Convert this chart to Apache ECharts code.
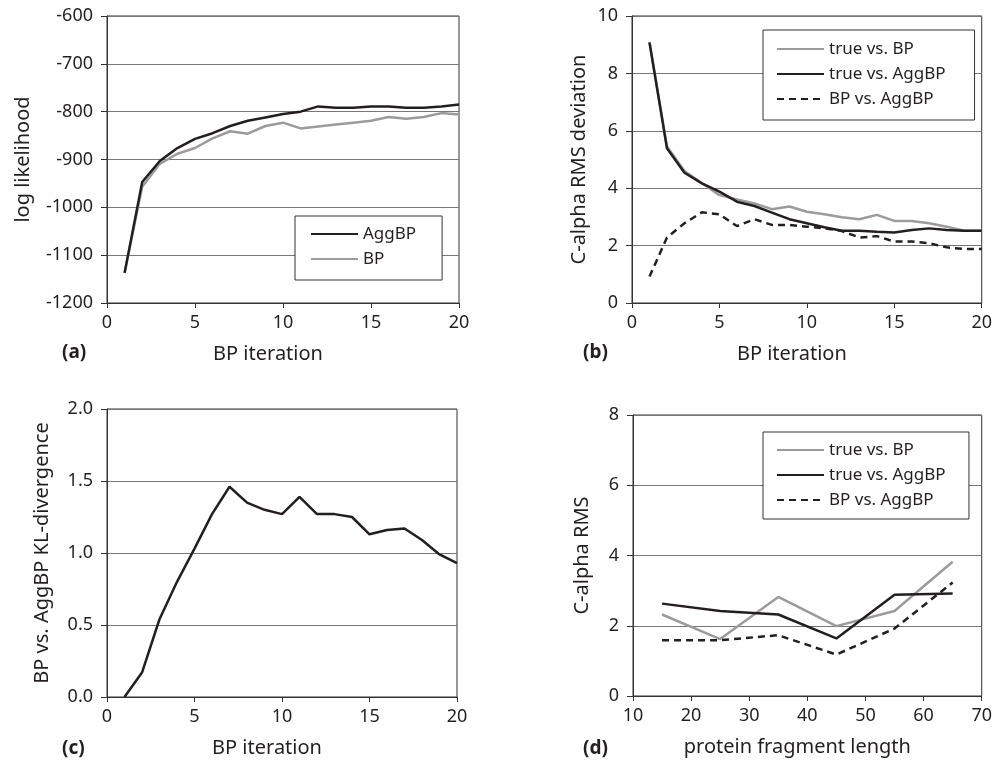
<!DOCTYPE html>
<html><head><meta charset="utf-8">
<script src="https://cdn.jsdelivr.net/npm/echarts@6/dist/echarts.min.js"></script>
<style>html,body{margin:0;padding:0;background:#fff}#c{width:995px;height:768px}</style>
</head><body><div id="c"></div>
<script>
// ---- data ----
const iterations = [1,2,3,4,5,6,7,8,9,10,11,12,13,14,15,16,17,18,19,20];
const llAggBP = [-1137,-947,-903,-876,-857,-845,-830,-819,-812,-805,-800,-789,-792,-792,-789,-789,-792,-792,-789,-785];
const llBP    = [-1137,-957,-909,-888,-876,-856,-841,-846,-830,-823,-835,-831,-827,-823,-819,-811,-815,-811,-803,-806];
const rmsTrueBP    = [9.08,5.45,4.60,4.17,3.76,3.61,3.47,3.27,3.36,3.18,3.09,2.99,2.92,3.07,2.86,2.86,2.78,2.66,2.52,2.52];
const rmsTrueAgg   = [9.08,5.39,4.54,4.17,3.88,3.53,3.38,3.15,2.92,2.78,2.64,2.52,2.52,2.48,2.46,2.54,2.60,2.54,2.52,2.52];
const rmsBPAgg     = [0.92,2.28,2.78,3.16,3.09,2.68,2.92,2.72,2.72,2.66,2.60,2.51,2.28,2.33,2.14,2.14,2.08,1.94,1.88,1.88];
const klDiv = [0.00,0.17,0.54,0.80,1.03,1.27,1.46,1.35,1.30,1.27,1.39,1.27,1.27,1.25,1.13,1.16,1.17,1.09,0.99,0.93];
const fragLength = [15,25,35,45,55,65];
const fragTrueBP  = [2.32,1.62,2.82,1.99,2.42,3.82];
const fragTrueAgg = [2.63,2.42,2.32,1.64,2.88,2.92];
const fragBPAgg   = [1.59,1.59,1.73,1.18,1.92,3.23];

const BLACK = '#231f20', GREY = '#9b9b9b';
const FONT = 'Noto Sans';
const pairs = (xs, ys) => xs.map((x, i) => [x, ys[i]]);

const grids = [
  {left:107, top:16, width:352, height:287},
  {left:632, top:16, width:351, height:287},
  {left:107, top:409, width:350, height:288},
  {left:633, top:415, width:352, height:281}
];
grids.forEach(g => { g.show = true; g.borderColor = '#333'; g.borderWidth = 1; g.backgroundColor = 'transparent'; });

function xAx(i, min, max, interval, name, padRight) {
  return {
    type:'value', gridIndex:i, min, max, interval,
    name, nameLocation:'middle', nameGap:41,
    nameTextStyle:{fontFamily:FONT, fontSize:20, color:BLACK, padding:[0,padRight,0,0]},
    axisLine:{show:true, onZero:false, lineStyle:{color:'#333', width:1}},
    axisTick:{show:true, length:5, lineStyle:{color:'#333'}},
    axisLabel:{fontFamily:FONT, fontSize:18, color:BLACK, margin:11, formatter: v => String(v)},
    splitLine:{show:false}
  };
}
function yAx(i, min, max, interval, name, nameGap, fmt) {
  return {
    type:'value', gridIndex:i, min, max, interval,
    name, nameLocation:'middle', nameGap,
    nameTextStyle:{fontFamily:FONT, fontSize:20, color:BLACK},
    axisLine:{show:true, lineStyle:{color:'#333', width:1}},
    axisTick:{show:true, length:6, lineStyle:{color:'#333'}},
    axisLabel:{fontFamily:FONT, fontSize:18, color:BLACK, margin:14, formatter: fmt || (v => String(v))},
    splitLine:{show:true, lineStyle:{color:'#777', width:1}}
  };
}

function line(name, xi, data, color, dashed) {
  return {
    name, type:'line', xAxisIndex:xi, yAxisIndex:xi, data, symbol:'none',
    lineStyle:{color, width:2.5, type: dashed ? [7,5] : 'solid'},
    itemStyle:{color}, animation:false
  };
}
function legend(names, left, top, padding) {
  return {
    show:true, orient:'vertical', left, top, padding,
    data: names, itemWidth:47, itemHeight:14, itemGap:5,
    itemStyle:{opacity:0},
    backgroundColor:'#fff', borderColor:'#333', borderWidth:1, borderRadius:0,
    textStyle:{fontFamily:FONT, fontSize:17, color:BLACK, lineHeight:20},
    selectedMode:false
  };
}

const option = {
  backgroundColor:'#fff',
  animation:false,
  grid: grids,
  xAxis:[
    xAx(0,0,20,5,'BP iteration',30),
    xAx(1,0,20,5,'BP iteration',30),
    xAx(2,0,20,5,'BP iteration',30),
    xAx(3,10,70,10,'protein fragment length',20)
  ],
  yAxis:[
    yAx(0,-1200,-600,100,'log likelihood',74),
    yAx(1,0,10,2,'C-alpha RMS deviation',43),
    yAx(2,0,2,0.5,'BP vs. AggBP KL-divergence',55, v => v.toFixed(1)),
    yAx(3,0,8,2,'C-alpha RMS',41)
  ],
  legend:[
    legend(['AggBP','BP'], 295, 216, [8,26,11,15]),
    legend(['true vs. BP','true vs. AggBP','BP vs. AggBP '], 763, 30, [9,29,11,13]),
    legend(['true vs. BP ','true vs. AggBP ','BP vs. AggBP'], 763, 432, [8,19,9,13])
  ],
  series:[
    line('BP', 0, pairs(iterations, llBP), GREY),
    line('AggBP', 0, pairs(iterations, llAggBP), BLACK),
    line('true vs. BP', 1, pairs(iterations, rmsTrueBP), GREY),
    line('true vs. AggBP', 1, pairs(iterations, rmsTrueAgg), BLACK),
    line('BP vs. AggBP ', 1, pairs(iterations, rmsBPAgg), BLACK, true),
    line('KL', 2, pairs(iterations, klDiv), BLACK),
    line('true vs. BP ', 3, pairs(fragLength, fragTrueBP), GREY),
    line('true vs. AggBP ', 3, pairs(fragLength, fragTrueAgg), BLACK),
    line('BP vs. AggBP', 3, pairs(fragLength, fragBPAgg), BLACK, true)
  ],
  graphic:[
    {type:'text', left:62, top:343, style:{text:'(a)', fontFamily:FONT, fontSize:19, fontWeight:'bold', fill:BLACK}},
    {type:'text', left:583, top:343, style:{text:'(b)', fontFamily:FONT, fontSize:19, fontWeight:'bold', fill:BLACK}},
    {type:'text', left:62, top:739, style:{text:'(c)', fontFamily:FONT, fontSize:19, fontWeight:'bold', fill:BLACK}},
    {type:'text', left:583, top:739, style:{text:'(d)', fontFamily:FONT, fontSize:19, fontWeight:'bold', fill:BLACK}}
  ]
};
const chart = echarts.init(document.getElementById('c'), null, {renderer:'canvas'});
chart.setOption(option);
</script></body></html>
